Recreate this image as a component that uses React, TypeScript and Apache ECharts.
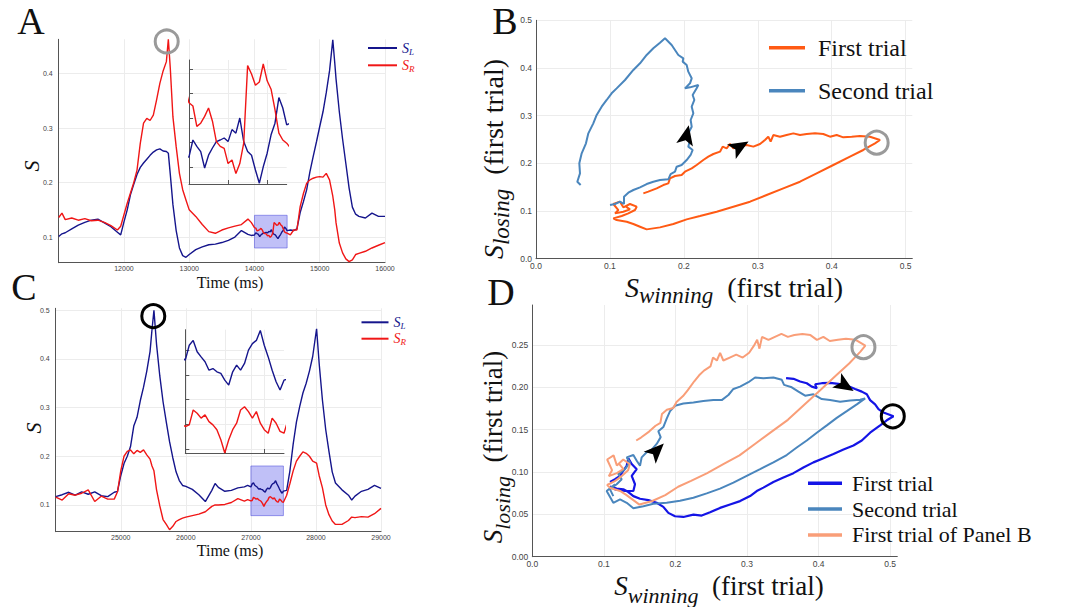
import React, { useEffect, useRef } from "react";
import * as echarts from "echarts";

// ---------- Panel A (time series, first/second trial) ----------
const timesA = [11000, 11050, 11100, 11200, 11300, 11400, 11500, 11600, 11700, 11800,
  11900, 11950, 12000, 12050, 12100, 12150, 12200, 12250, 12300, 12350,
  12400, 12450, 12500, 12550, 12600, 12650, 12680, 12710, 12750, 12800,
  12850, 12900, 12950, 13000, 13100, 13200, 13300, 13400, 13500, 13600,
  13700, 13800, 13900, 13950,
  14000, 14020, 14040, 14060, 14080, 14100, 14120, 14140, 14160, 14180, 14200, 14220, 14240,
  14260, 14280, 14300, 14320, 14340, 14360, 14380, 14400, 14420, 14440, 14460, 14480, 14500,
  14550, 14600, 14650, 14700, 14750, 14800, 14850, 14900, 14950, 15000,
  15050, 15100, 15150, 15200, 15230, 15250, 15300, 15350, 15400, 15450,
  15500, 15550, 15600, 15700, 15800, 15900, 16000];
const sLA = [0.101, 0.106, 0.108, 0.115, 0.122, 0.127, 0.131, 0.133, 0.126, 0.119,
  0.109, 0.104, 0.128, 0.150, 0.178, 0.197, 0.215, 0.228, 0.236, 0.243,
  0.250, 0.256, 0.260, 0.262, 0.258, 0.257, 0.254, 0.215, 0.160, 0.112,
  0.080, 0.066, 0.063, 0.068, 0.077, 0.082, 0.086, 0.087, 0.090, 0.094,
  0.100, 0.112, 0.105, 0.103,
  0.1038, 0.1080, 0.1064, 0.1051, 0.1010, 0.1042, 0.1060, 0.1076, 0.1080, 0.1085, 0.1076, 0.1106, 0.1097,
  0.1135, 0.1076, 0.1051, 0.1042, 0.1005, 0.0972, 0.1013, 0.1047, 0.1093, 0.1122, 0.1186, 0.1160, 0.1118,
  0.113, 0.112, 0.115, 0.145, 0.165, 0.187, 0.220, 0.248, 0.275, 0.303,
  0.330, 0.365, 0.405, 0.462, 0.420, 0.390, 0.330, 0.280, 0.235, 0.190,
  0.155, 0.142, 0.138, 0.135, 0.144, 0.138, 0.138];
const sRA = [0.136, 0.144, 0.132, 0.135, 0.131, 0.134, 0.130, 0.131, 0.127, 0.121,
  0.113, 0.120, 0.141, 0.162, 0.181, 0.200, 0.223, 0.272, 0.309, 0.318,
  0.314, 0.324, 0.352, 0.382, 0.405, 0.422, 0.463, 0.410, 0.321, 0.266,
  0.217, 0.187, 0.168, 0.150, 0.138, 0.123, 0.110, 0.107, 0.113, 0.117,
  0.120, 0.123, 0.133, 0.127,
  0.1173, 0.1165, 0.1114, 0.1122, 0.1139, 0.1160, 0.1127, 0.1076, 0.1064, 0.1059, 0.1021, 0.1030, 0.0996,
  0.1021, 0.1072, 0.1266, 0.1245, 0.1217, 0.1225, 0.1270, 0.1228, 0.1207, 0.1156, 0.1097, 0.1080, 0.1072,
  0.104, 0.113, 0.113, 0.156, 0.180, 0.199, 0.205, 0.208, 0.210, 0.211,
  0.210, 0.217, 0.205, 0.175, 0.150, 0.126, 0.089, 0.071, 0.060, 0.055,
  0.058, 0.068, 0.070, 0.074, 0.080, 0.085, 0.090];
const windowA = { t0: 14000, t1: 14500, s0: 0.08, s1: 0.14 };
const circleA = [12655, 0.459];
const ticksTimeA = [12000, 13000, 14000, 15000, 16000];
const ticksSA = [0.1, 0.2, 0.3, 0.4];
const insetTicksTimeA = [14000, 14200, 14400];
const insetTicksSA = [0.1013, 0.1074, 0.1135, 0.1196, 0.1257];

// ---------- Panel C ----------
const timesC = [24000, 24100, 24200, 24300, 24400, 24500, 24600, 24700, 24800, 24900,
  24950, 25000, 25050, 25100, 25150, 25200, 25250, 25300, 25350, 25400,
  25450, 25480, 25510, 25550, 25600, 25650, 25700, 25750, 25800, 25850,
  25900, 25950, 26000, 26100, 26200, 26300, 26400, 26450, 26500, 26600,
  26700, 26800, 26900, 26950,
  27000, 27020, 27040, 27060, 27080, 27100, 27120, 27140, 27160, 27180, 27200, 27220, 27240,
  27260, 27280, 27300, 27320, 27340, 27360, 27380, 27400, 27420, 27440, 27460, 27480, 27500,
  27550, 27600, 27650, 27700, 27750, 27800, 27850, 27900, 27950, 28010,
  28050, 28100, 28150, 28200, 28250, 28300, 28400, 28500, 28550, 28600,
  28700, 28800, 28900, 29000];
const sLC = [0.117, 0.121, 0.126, 0.120, 0.127, 0.122, 0.127, 0.119, 0.117, 0.126,
  0.128, 0.160, 0.185, 0.200, 0.220, 0.262, 0.280, 0.314, 0.342, 0.375,
  0.415, 0.460, 0.500, 0.430, 0.365, 0.312, 0.270, 0.230, 0.197, 0.168,
  0.150, 0.140, 0.138, 0.132, 0.121, 0.107, 0.130, 0.144, 0.136, 0.128,
  0.130, 0.135, 0.137, 0.140,
  0.1369, 0.1433, 0.1454, 0.1405, 0.1383, 0.1362, 0.1326, 0.1333, 0.1319, 0.1312, 0.1283, 0.1262, 0.1319,
  0.1348, 0.1326, 0.1355, 0.1412, 0.1440, 0.1454, 0.1497, 0.1433, 0.1383, 0.1326, 0.1276, 0.1241, 0.1283,
  0.130, 0.170, 0.225, 0.270, 0.302, 0.330, 0.350, 0.375, 0.405, 0.462,
  0.390, 0.315, 0.255, 0.210, 0.168, 0.145, 0.131, 0.120, 0.110, 0.118,
  0.128, 0.132, 0.140, 0.134];
const sRC = [0.116, 0.110, 0.123, 0.120, 0.124, 0.131, 0.107, 0.118, 0.112, 0.112,
  0.127, 0.170, 0.200, 0.210, 0.213, 0.205, 0.212, 0.208, 0.213, 0.203,
  0.194, 0.180, 0.170, 0.131, 0.098, 0.070, 0.060, 0.049, 0.056, 0.066,
  0.070, 0.073, 0.075, 0.078, 0.081, 0.086, 0.097, 0.100, 0.100, 0.101,
  0.105, 0.113, 0.108, 0.111,
  0.1084, 0.1091, 0.1155, 0.1141, 0.1120, 0.1134, 0.1105, 0.1091, 0.1070, 0.1027, 0.0970, 0.1027, 0.1070,
  0.1098, 0.1155, 0.1169, 0.1148, 0.1120, 0.1148, 0.1098, 0.1070, 0.1055, 0.1120, 0.1098, 0.1063, 0.1055,
  0.120, 0.144, 0.170, 0.190, 0.200, 0.209, 0.206, 0.200, 0.190, 0.186,
  0.160, 0.135, 0.100, 0.080, 0.067, 0.060, 0.060, 0.068, 0.075, 0.074,
  0.076, 0.075, 0.082, 0.093];
const windowC = { t0: 27000, t1: 27500, s0: 0.078, s1: 0.18 };
const circleC = [25500, 0.488];
const ticksTimeC = [25000, 26000, 27000, 28000, 29000];
const ticksSC = [0.1, 0.2, 0.3, 0.4, 0.5];
const insetTicksTimeC = [27000, 27200, 27400];
const insetTicksSC = [0.0987, 0.1093, 0.1199, 0.1305, 0.1411];

// ---------- Panel B (phase plane) ----------
const bFirstWin = [0.1452, 0.1519, 0.1632, 0.1722, 0.1790, 0.1812, 0.1880, 0.1970, 0.2015, 0.2106,
  0.2173, 0.2263, 0.2331, 0.2399, 0.2489, 0.2525, 0.2579, 0.2624, 0.2669, 0.2759,
  0.2849, 0.2940, 0.3030, 0.3097, 0.3142, 0.3174, 0.3210, 0.3300, 0.3390, 0.3481,
  0.3571, 0.3661, 0.3774, 0.3886, 0.3977, 0.4067, 0.4157, 0.4270, 0.4382, 0.4518,
  0.4653, 0.4585, 0.4427, 0.4247, 0.4022, 0.3796, 0.3571, 0.3345, 0.3120, 0.2895,
  0.2669, 0.2444, 0.2218, 0.2038, 0.1858, 0.1677, 0.1497, 0.1407, 0.1317, 0.1227,
  0.1091, 0.1046, 0.1159, 0.1249, 0.1339, 0.1362, 0.1271, 0.1181, 0.1136, 0.1046,
  0.1114, 0.1069, 0.1181, 0.1271, 0.1204];
const bFirstLose = [0.1371, 0.1406, 0.1476, 0.1545, 0.1580, 0.1685, 0.1734, 0.1755, 0.1825, 0.1895,
  0.1965, 0.2070, 0.2140, 0.2196, 0.2245, 0.2350, 0.2315, 0.2406, 0.2315, 0.2350,
  0.2385, 0.2350, 0.2406, 0.2490, 0.2559, 0.2455, 0.2594, 0.2559, 0.2594, 0.2629,
  0.2594, 0.2615, 0.2629, 0.2615, 0.2559, 0.2594, 0.2545, 0.2559, 0.2573, 0.2559,
  0.2490, 0.2420, 0.2280, 0.2140, 0.1965, 0.1790, 0.1615, 0.1476, 0.1336, 0.1196,
  0.1091, 0.0986, 0.0895, 0.0825, 0.0727, 0.0657, 0.0615, 0.0671, 0.0727, 0.0776,
  0.0811, 0.0846, 0.0895, 0.0951, 0.1021, 0.1091, 0.1147, 0.1077, 0.1196, 0.1147,
  0.1021, 0.0951, 0.0986, 0.1035, 0.1105];
const bSecondWin = [0.1001, 0.1069, 0.1136, 0.1190, 0.1190, 0.1249, 0.1317, 0.1407, 0.1497, 0.1587,
  0.1677, 0.1790, 0.1821, 0.1880, 0.1903, 0.1970, 0.2038, 0.2092, 0.2119, 0.2060,
  0.2083, 0.2060, 0.2106, 0.2092, 0.2128, 0.2106, 0.2142, 0.2119, 0.2173, 0.2196,
  0.2083, 0.2015, 0.2083, 0.2106, 0.2060, 0.2038, 0.1984, 0.1993, 0.1925, 0.1880,
  0.1835, 0.1745, 0.1677, 0.1587, 0.1497, 0.1407, 0.1317, 0.1204, 0.1091, 0.1023,
  0.0956, 0.0888, 0.0821, 0.0775, 0.0708, 0.0676, 0.0618, 0.0586, 0.0595, 0.0559,
  0.0604];
const bSecondLose = [0.1126, 0.1147, 0.1196, 0.1147, 0.1301, 0.1385, 0.1441, 0.1497, 0.1566, 0.1615,
  0.1650, 0.1664, 0.1776, 0.1825, 0.1930, 0.1965, 0.2070, 0.2175, 0.2280, 0.2350,
  0.2490, 0.2629, 0.2769, 0.2909, 0.3049, 0.3189, 0.3329, 0.3434, 0.3573, 0.3643,
  0.3594, 0.3573, 0.3678, 0.3783, 0.3923, 0.4063, 0.4133, 0.4203, 0.4273, 0.4378,
  0.4483, 0.4622, 0.4531, 0.4413, 0.4273, 0.4098, 0.3958, 0.3748, 0.3573, 0.3469,
  0.3329, 0.3189, 0.3014, 0.2839, 0.2629, 0.2420, 0.2210, 0.2000, 0.1790, 0.1615,
  0.1545];
const circleB = [0.4608, 0.2434];
const arrowsB = [[0.2759, 0.2350], [0.2038, 0.2594]];
const ticksB = [0, 0.1, 0.2, 0.3, 0.4, 0.5];

// ---------- Panel D ----------
const dFirstWin = [0.3546, 0.3649, 0.3742, 0.3835, 0.3905, 0.3975, 0.3952, 0.4045, 0.4161, 0.4278,
  0.4394, 0.4511, 0.4604, 0.4674, 0.4720, 0.4790, 0.4837, 0.4907, 0.5047, 0.4953,
  0.4860, 0.4720, 0.4604, 0.4487, 0.4348, 0.4208, 0.4068, 0.3928, 0.3788, 0.3649,
  0.3509, 0.3369, 0.3229, 0.3136, 0.3043, 0.2903, 0.2763, 0.2623, 0.2484, 0.2367,
  0.2251, 0.2111, 0.1994, 0.1901, 0.1831, 0.1738, 0.1622, 0.1505, 0.1412, 0.1342,
  0.1272, 0.1179, 0.1086, 0.1156, 0.1295, 0.1412, 0.1435, 0.1389, 0.1459, 0.1389,
  0.1342, 0.1319, 0.1272, 0.1226, 0.1156, 0.1086];
const dFirstLose = [0.2107, 0.2099, 0.2067, 0.2047, 0.2007, 0.1987, 0.2035, 0.2047, 0.2051, 0.2039,
  0.2019, 0.1979, 0.1948, 0.1916, 0.1848, 0.1797, 0.1741, 0.1701, 0.1657, 0.1610,
  0.1550, 0.1463, 0.1371, 0.1312, 0.1264, 0.1212, 0.1161, 0.1113, 0.1053, 0.0986,
  0.0934, 0.0882, 0.0815, 0.0775, 0.0715, 0.0656, 0.0616, 0.0576, 0.0525, 0.0485,
  0.0497, 0.0469, 0.0477, 0.0517, 0.0588, 0.0636, 0.0668, 0.0684, 0.0715, 0.0763,
  0.0795, 0.0803, 0.0827, 0.0795, 0.0775, 0.0775, 0.0855, 0.0954, 0.1033, 0.1093,
  0.1161, 0.1073, 0.1014, 0.0954, 0.0914, 0.0882];
const dSecondWin = [0.1132, 0.1086, 0.1179, 0.1249, 0.1202, 0.1295, 0.1365, 0.1319, 0.1412, 0.1459,
  0.1505, 0.1528, 0.1598, 0.1668, 0.1738, 0.1794, 0.1761, 0.1831, 0.1878, 0.1925,
  0.1994, 0.2111, 0.2251, 0.2390, 0.2530, 0.2647, 0.2740, 0.2810, 0.2903, 0.3020,
  0.3113, 0.3229, 0.3369, 0.3486, 0.3518, 0.3625, 0.3719, 0.3812, 0.3928, 0.4045,
  0.4161, 0.4301, 0.4441, 0.4581, 0.4651, 0.4534, 0.4394, 0.4254, 0.4115, 0.3975,
  0.3835, 0.3695, 0.3555, 0.3369, 0.3183, 0.2996, 0.2810, 0.2623, 0.2437, 0.2251,
  0.2064, 0.1878, 0.1692, 0.1552, 0.1412, 0.1319, 0.1226, 0.1132, 0.1039, 0.1156];
const dSecondLose = [0.0715, 0.0795, 0.0855, 0.0914, 0.0974, 0.1033, 0.1113, 0.1172, 0.1200, 0.1133,
  0.1073, 0.1172, 0.1232, 0.1264, 0.1331, 0.1411, 0.1479, 0.1530, 0.1630, 0.1717,
  0.1781, 0.1808, 0.1820, 0.1836, 0.1848, 0.1848, 0.1908, 0.1979, 0.2007, 0.2059,
  0.2114, 0.2107, 0.2114, 0.2087, 0.2027, 0.1999, 0.1948, 0.1900, 0.1916, 0.1860,
  0.1848, 0.1828, 0.1844, 0.1852, 0.1868, 0.1797, 0.1717, 0.1638, 0.1550, 0.1463,
  0.1371, 0.1288, 0.1200, 0.1113, 0.1033, 0.0954, 0.0874, 0.0803, 0.0747, 0.0696,
  0.0660, 0.0636, 0.0624, 0.0596, 0.0572, 0.0636, 0.0676, 0.0636, 0.0775, 0.0855];
const circleDGray = [0.4627, 0.2472];
const circleDBlack = [0.5037, 0.1657];
const arrowsD = [[0.4371, 0.2019], [0.1739, 0.1252]];
const ticksDX = [0, 0.1, 0.2, 0.3, 0.4, 0.5];
const ticksDY = [0, 0.05, 0.1, 0.15, 0.2, 0.25];

// ---------- styling ----------
const SERIF = "'Liberation Serif', 'Times New Roman', serif";
const SANS = "'Liberation Sans', Arial, sans-serif";
const NAVY = "#15158c";
const RED = "#f01616";
const ORANGE = "#ff5a14";
const STEEL = "#4a86bd";
const BLUE = "#1414e6";
const SALMON = "#f99e78";
const GRIDLINE = "#ececec";
const AXIS = "#555";
const ARROW_SYMBOL = "path://M7,0L14,17L7,13L0,17Z";

const pairs = (xs: number[], ys: number[]) => xs.map((x, i) => [x, ys[i]]);

function mainAxis(gridIndex: number, min: number, max: number, ticks: number[], digits: number, fontSize: number, margin: number) {
  return {
    type: "value", gridIndex, min, max,
    axisLine: { show: true, onZero: false, lineStyle: { color: AXIS, width: 1 } },
    axisTick: { show: false, customValues: ticks },
    axisLabel: {
      customValues: ticks, formatter: (v: number) => v.toFixed(digits),
      fontFamily: SANS, fontSize, color: "#444", margin,
    },
    splitLine: { show: true, lineStyle: { color: GRIDLINE, width: 1 } },
  };
}
function insetAxis(gridIndex: number, min: number, max: number, ticks: number[]) {
  return {
    type: "value", gridIndex, min, max,
    axisLine: { show: true, onZero: false, lineStyle: { color: AXIS, width: 1 } },
    axisTick: { show: true, inside: true, length: 4, customValues: ticks, lineStyle: { color: AXIS } },
    axisLabel: { show: false },
    splitLine: { show: true, lineStyle: { color: GRIDLINE, width: 1 } },
  };
}
function line(name: string, x: number, data: number[][], color: string, width: number, extra: any = {}) {
  return {
    type: "line", name, xAxisIndex: x, yAxisIndex: x, data, showSymbol: false, symbol: "none",
    lineStyle: { color, width }, itemStyle: { color }, clip: true, silent: true, ...extra,
  };
}
function ring(name: string, x: number, pt: number[], color: string) {
  return {
    type: "scatter", name, xAxisIndex: x, yAxisIndex: x, data: [pt], symbol: "circle", symbolSize: 23,
    itemStyle: { color: "rgba(0,0,0,0)", borderColor: color, borderWidth: 3, opacity: 1 }, silent: true, z: 5,
  };
}
function arrows(name: string, x: number, pts: number[][], rots: number[]) {
  return {
    type: "scatter", name, xAxisIndex: x, yAxisIndex: x,
    data: pts.map((p, i) => ({ value: p, symbol: ARROW_SYMBOL, symbolSize: [17, 20], symbolRotate: rots[i] })),
    symbol: ARROW_SYMBOL, symbolSize: [17, 20],
    itemStyle: { color: "#000", opacity: 1 }, silent: true, z: 6,
  };
}
const windowStyle = {
  silent: true,
  itemStyle: { color: "rgba(105,105,235,0.42)", borderColor: "rgba(80,80,220,0.55)", borderWidth: 1 },
};

const slRich = (c: string) => ({
  fontFamily: SERIF, fontStyle: "italic", fontSize: 14, lineHeight: 16, verticalAlign: "middle", color: c,
});
const subRich = (c: string) => ({
  fontFamily: SERIF, fontStyle: "italic", fontSize: 9, lineHeight: 8, verticalAlign: "bottom", color: c,
});

function axisTitle(x: number, y: number, sub: string, vertical: boolean, main: number, subSize: number) {
  return {
    type: "text", x, y, rotation: vertical ? Math.PI / 2 : 0, silent: true,
    style: {
      text: `{s|S}{w|${sub}}{t|  (first trial)}`,
      align: "center", verticalAlign: "middle", textAlign: "center", textVerticalAlign: "middle",
      rich: {
        s: { fontFamily: SERIF, fontStyle: "italic", fontSize: main, lineHeight: 40, verticalAlign: "middle", fill: "#111" },
        w: { fontFamily: SERIF, fontStyle: "italic", fontSize: subSize, lineHeight: 20, verticalAlign: "bottom", fill: "#111" },
        t: { fontFamily: SERIF, fontSize: main, lineHeight: 40, verticalAlign: "middle", fill: "#111" },
      },
    },
  };
}
function plainText(x: number, y: number, text: string, font: string, rot = 0) {
  return {
    type: "text", x, y, rotation: rot, silent: true,
    style: { text, font, fill: "#111", align: "center", verticalAlign: "middle", textAlign: "center", textVerticalAlign: "middle" },
  };
}

export default function App() {
  const ref = useRef<HTMLDivElement>(null);
  useEffect(() => {
    if (!ref.current) return;
    const chart = echarts.init(ref.current, null, { renderer: "svg" });
    const option: any = {
      animation: false,
      backgroundColor: "#ffffff",
      textStyle: { fontFamily: SANS },
      grid: [
        { left: 58.7, top: 39.3, width: 326.3, height: 223.4 },   // A
        { left: 189, top: 60, width: 97.7, height: 124 },          // A inset
        { left: 55.7, top: 308.3, width: 325.3, height: 223.4 },  // C
        { left: 185.3, top: 329.7, width: 98.7, height: 123.3 },   // C inset
        { left: 536, top: 20.3, width: 376.3, height: 238.4 },     // B
        { left: 532.3, top: 305, width: 365, height: 251.7 },      // D
      ],
      xAxis: [
        mainAxis(0, 11000, 16000, ticksTimeA, 0, 7, 2),
        insetAxis(1, 14000, 14500, insetTicksTimeA),
        mainAxis(2, 24000, 29000, ticksTimeC, 0, 7, 2),
        insetAxis(3, 27000, 27500, insetTicksTimeC),
        mainAxis(4, 0, 0.509, ticksB, 1, 8.5, 3),
        mainAxis(5, 0, 0.51, ticksDX, 1, 8.5, 3),
      ],
      yAxis: [
        mainAxis(0, 0.053, 0.463, ticksSA, 1, 7, 6),
        insetAxis(1, 0.097, 0.128, insetTicksSA),
        mainAxis(2, 0.045, 0.504, ticksSC, 1, 7, 6),
        insetAxis(3, 0.097, 0.150, insetTicksSC),
        mainAxis(4, 0, 0.5, ticksB, 1, 8.5, 4),
        mainAxis(5, 0, 0.297, ticksDY, 2, 8.5, 4),
      ],
      legend: [
        {
          data: ["A_SL", "A_SR"], orient: "vertical", left: 368, top: 41, padding: 0,
          icon: "rect", itemWidth: 29, itemHeight: 2, itemGap: 2.3, selectedMode: false,
          formatter: (n: string) => (n.endsWith("SL") ? "{bl|S}{bls|L}" : "{rd|S}{rds|R}"),
          textStyle: { rich: { bl: slRich(NAVY), bls: subRich(NAVY), rd: slRich(RED), rds: subRich(RED) } },
        },
        {
          data: ["C_SL", "C_SR"], orient: "vertical", left: 361.5, top: 315.3, padding: 0,
          icon: "rect", itemWidth: 27, itemHeight: 2, itemGap: 1.4, selectedMode: false,
          formatter: (n: string) => (n.endsWith("SL") ? "{bl|S}{bls|L}" : "{rd|S}{rds|R}"),
          textStyle: { rich: { bl: slRich(NAVY), bls: subRich(NAVY), rd: slRich(RED), rds: subRich(RED) } },
        },
        {
          data: ["B_first", "B_second"], orient: "vertical", left: 769, top: 33.7, padding: 0,
          icon: "rect", itemWidth: 36, itemHeight: 3.5, itemGap: 15, selectedMode: false,
          formatter: (n: string) => (n === "B_first" ? "First trial" : "Second trial"),
          textStyle: { fontFamily: SERIF, fontSize: 24, lineHeight: 28, color: "#111", padding: [0, 0, 0, 8] },
        },
        {
          data: ["D_first", "D_second", "D_panelB"], orient: "vertical", left: 808, top: 471.3, padding: 0,
          icon: "rect", itemWidth: 34, itemHeight: 3.5, itemGap: 1.8, selectedMode: false,
          formatter: (n: string) => (n === "D_first" ? "First trial" : n === "D_second" ? "Second trial" : "First trial of Panel B"),
          textStyle: { fontFamily: SERIF, fontSize: 22, lineHeight: 24, color: "#111", padding: [0, 0, 0, 5] },
        },
      ],
      series: [
        // A
        line("A_SL", 0, pairs(timesA, sLA), NAVY, 1.4, {
          markArea: { ...windowStyle, data: [[{ coord: [windowA.t0, windowA.s0] }, { coord: [windowA.t1, windowA.s1] }]] },
        }),
        line("A_SR", 0, pairs(timesA, sRA), RED, 1.4),
        ring("A_ring", 0, circleA, "#9a9a9a"),
        line("A_SL_in", 1, pairs(timesA, sLA), NAVY, 1.4),
        line("A_SR_in", 1, pairs(timesA, sRA), RED, 1.4),
        // C
        line("C_SL", 2, pairs(timesC, sLC), NAVY, 1.4, {
          markArea: { ...windowStyle, data: [[{ coord: [windowC.t0, windowC.s0] }, { coord: [windowC.t1, windowC.s1] }]] },
        }),
        line("C_SR", 2, pairs(timesC, sRC), RED, 1.4),
        ring("C_ring", 2, circleC, "#000"),
        line("C_SL_in", 3, pairs(timesC, sLC), NAVY, 1.4),
        line("C_SR_in", 3, pairs(timesC, sRC), RED, 1.4),
        // B
        line("B_first", 4, pairs(bFirstWin, bFirstLose), ORANGE, 2),
        line("B_second", 4, pairs(bSecondWin, bSecondLose), STEEL, 2),
        ring("B_ring", 4, circleB, "#9a9a9a"),
        arrows("B_arrows", 4, arrowsB, [-59, -12]),
        // D
        line("D_first", 5, pairs(dFirstWin, dFirstLose), BLUE, 2.2),
        line("D_second", 5, pairs(dSecondWin, dSecondLose), STEEL, 2),
        line("D_panelB", 5, pairs(bFirstWin, bFirstLose), SALMON, 2),
        ring("D_ring_gray", 5, circleDGray, "#9a9a9a"),
        ring("D_ring_black", 5, circleDBlack, "#000"),
        arrows("D_arrows", 5, arrowsD, [-122, -45]),
      ],
      graphic: [
        plainText(31, 21, "A", `38px ${SERIF}`),
        plainText(505, 21, "B", `38px ${SERIF}`),
        plainText(24, 287, "C", `38px ${SERIF}`),
        plainText(501, 292, "D", `38px ${SERIF}`),
        plainText(230, 282, "Time (ms)", `16px ${SERIF}`),
        plainText(230, 550, "Time (ms)", `16px ${SERIF}`),
        plainText(31.5, 166, "S", `italic 22px ${SERIF}`, Math.PI / 2),
        plainText(33, 428, "S", `italic 22px ${SERIF}`, Math.PI / 2),
        axisTitle(734, 287, "winning", false, 28, 23),
        axisTitle(493, 159, "losing", true, 28, 23),
        axisTitle(719, 586, "winning", false, 27, 22),
        axisTitle(493, 447, "losing", true, 27, 22),
      ],
    };
    chart.setOption(option);
    return () => chart.dispose();
  }, []);
  return (
    <div
      ref={ref}
      style={{ position: "fixed", left: 0, top: 0, width: 1080, height: 607, background: "#fff" }}
    />
  );
}
